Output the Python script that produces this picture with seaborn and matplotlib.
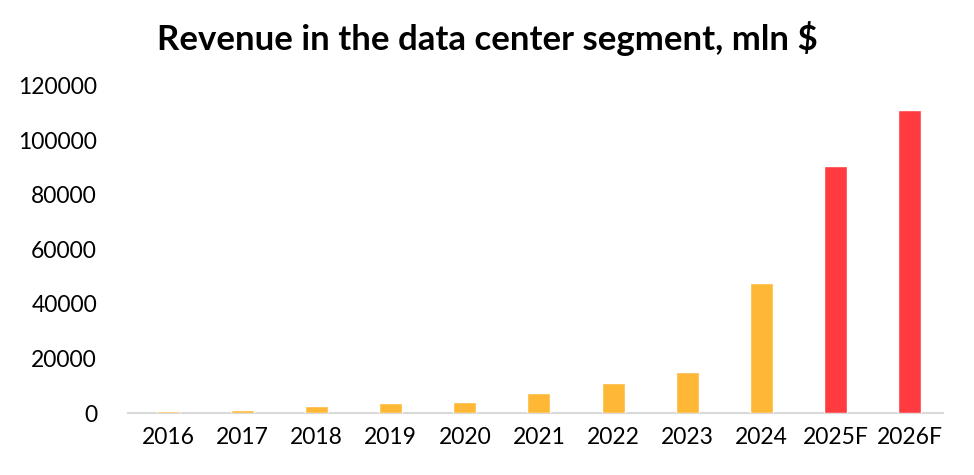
import matplotlib
matplotlib.use("Agg")
import matplotlib.pyplot as plt
import seaborn as sns
import pandas as pd

years = ["2016", "2017", "2018", "2019", "2020", "2021", "2022", "2023", "2024", "2025F", "2026F"]
revenue = [700, 1350, 2700, 3900, 4100, 7300, 11100, 15100, 47700, 90700, 110900]
kind = ["actual"] * 9 + ["forecast"] * 2
palette = {"actual": "#FFB836", "forecast": "#FF3B3F"}

sns.set_theme(style="white")
plt.rcParams['font.family'] = ['Lato', 'DejaVu Sans']
plt.rcParams['text.color'] = 'black'

df = pd.DataFrame({"year": years, "revenue": revenue, "kind": kind})

fig = plt.figure(figsize=(9.74, 4.75), dpi=100)
ax = fig.add_axes([0.131, 0.13, 0.837, 0.69])
sns.barplot(data=df, x="year", y="revenue", hue="kind", palette=palette,
            dodge=False, width=0.31, legend=False, saturation=1, ax=ax, zorder=3)
ax.set_ylim(0, 120000)
ax.set_xlim(-0.55, 10.45)
ax.set_yticks(range(0, 120001, 20000))
ax.set_xlabel("")
ax.set_ylabel("")
for s in ["top", "right", "left"]:
    ax.spines[s].set_visible(False)
ax.spines["bottom"].set_color("#D9D9D9")
ax.spines["bottom"].set_linewidth(1.5)
ax.spines["bottom"].set_zorder(1)
ax.tick_params(axis="both", labelsize=16.5, colors="#000000", length=0)
ax.tick_params(axis="y", pad=22)
ax.tick_params(axis="x", pad=10)
fig.suptitle("Revenue in the data center segment, mln $", x=0.5, y=0.955,
             fontsize=25, fontweight="bold", color="black")
fig.savefig("out.png", dpi=100)
